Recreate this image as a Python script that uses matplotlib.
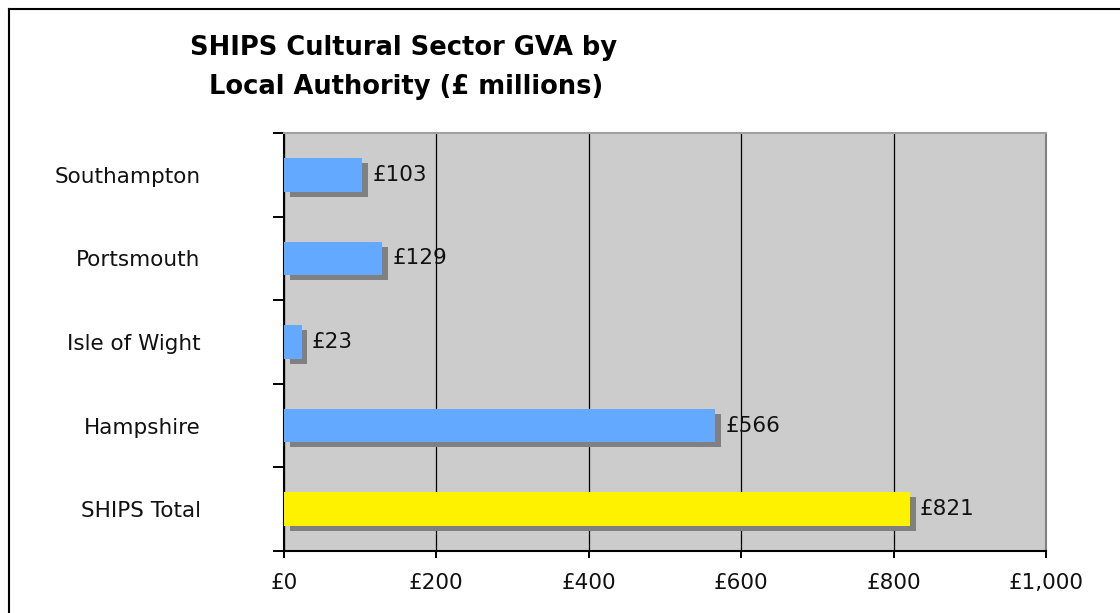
import numpy as np
import matplotlib
matplotlib.use("Agg")
import matplotlib.pyplot as plt
import matplotlib.patheffects as pe
from matplotlib.lines import Line2D
from matplotlib.ticker import FixedLocator, FuncFormatter

# GVA by local authority, top row first
areas = ["Southampton", "Portsmouth", "Isle of Wight", "Hampshire", "SHIPS Total"]
gva = [103, 129, 23, 566, 821]
bar_colours = ["#63A9FF", "#63A9FF", "#63A9FF", "#63A9FF", "#FFF200"]
x_ticks = [0, 200, 400, 600, 800, 1000]

W, H = 1120, 613
fig = plt.figure(figsize=(W / 100, H / 100), dpi=100)
fig.patch.set_facecolor("white")

# chart frame: left and top edges only
fig.add_artist(Line2D([9 / W, 9 / W], [0, 1 - 9 / H], color="black", lw=1.5,
                      transform=fig.transFigure))
fig.add_artist(Line2D([9 / W, 1], [1 - 9 / H, 1 - 9 / H], color="black", lw=1.5,
                      transform=fig.transFigure))

ax = fig.add_axes([284 / W, 1 - 551 / H, (1046 - 284) / W, (551 - 133) / H])
ax.set_facecolor("#CCCCCC")

ypos = np.arange(len(areas))
shadow = [pe.SimplePatchShadow(offset=(4.3, -3.6), shadow_rgbFace="#808080", alpha=1.0),
          pe.Normal()]
bars = ax.barh(ypos, gva, height=0.4, color=bar_colours, zorder=3)
for b in bars:
    b.set_path_effects(shadow)

for y, v in zip(ypos, gva):
    ax.annotate("£{:,}".format(v), (v, y), xytext=(7.5, 0), textcoords="offset points",
                va="center", ha="left", fontsize=15.5, color="#111111", zorder=5)

ax.set_xlim(0, 1000)
ax.set_ylim(len(areas) - 0.5, -0.5)

ax.xaxis.set_major_locator(FixedLocator(x_ticks))
ax.xaxis.set_major_formatter(FuncFormatter(lambda v, p: "£{:,.0f}".format(v)))
ax.grid(axis="x", color="black", lw=0.9, zorder=1)
ax.tick_params(axis="x", direction="out", length=5, width=1.4, pad=11,
               labelsize=15.5, labelcolor="#111111")

ax.set_yticks(ypos)
ax.set_yticklabels(areas)
ax.yaxis.set_minor_locator(FixedLocator(np.arange(-0.5, len(areas), 1.0)))
ax.tick_params(axis="y", which="major", length=0, pad=60, labelsize=15.5,
               labelcolor="#111111")
ax.tick_params(axis="y", which="minor", direction="out", length=8, width=1.4)

for side in ("left", "bottom"):
    ax.spines[side].set_color("black")
    ax.spines[side].set_linewidth(1.5)
ax.spines["top"].set_color("#A0A0A0")
ax.spines["top"].set_linewidth(1.5)
ax.spines["right"].set_color("#808080")
ax.spines["right"].set_linewidth(1.5)
ax.set_axisbelow(True)

fig.text(404 / W, 1 - 55 / H, "SHIPS Cultural Sector GVA by", ha="center",
         va="baseline", fontsize=18.5, fontweight="bold")
fig.text(406 / W, 1 - 94 / H, "Local Authority (£ millions)", ha="center",
         va="baseline", fontsize=18.5, fontweight="bold")

fig.savefig("out.png", dpi=100)
